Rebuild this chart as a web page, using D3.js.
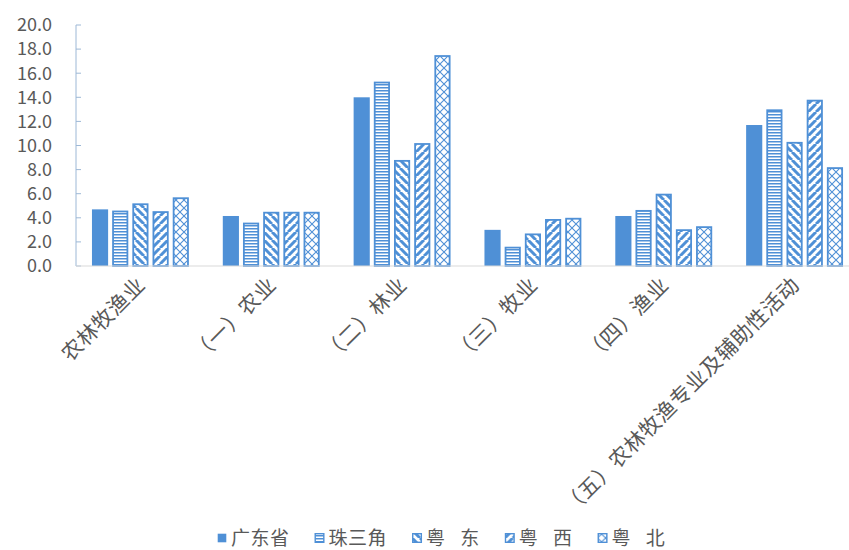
<!DOCTYPE html>
<html>
<head>
<meta charset="utf-8">
<script src="https://cdn.jsdelivr.net/npm/d3@7"></script>
<style>
  body { margin: 0; background: #fff; }
  text { font-family: "Noto Sans CJK SC", "Noto Sans", sans-serif; fill: #595959; }
</style>
</head>
<body>
<div id="chart"></div>
<script>
// categories and series
const categories = ["农林牧渔业", "（一）农业", "（二）林业", "（三）牧业", "（四）渔业", "（五）农林牧渔专业及辅助性活动"];
const seriesNames = ["广东省", "珠三角", "粤 东", "粤 西", "粤 北"];
const yTicks = [0, 2, 4, 6, 8, 10, 12, 14, 16, 18, 20];

// values per series, same order as categories
const guangdong = [4.7, 4.15, 14.0, 3.0, 4.15, 11.7];
const zhusanjiao = [4.6, 3.6, 15.3, 1.6, 4.65, 13.0];
const yuedong = [5.2, 4.5, 8.8, 2.7, 6.0, 10.3];
const yuexi = [4.55, 4.5, 10.2, 3.9, 3.05, 13.8];
const yuebei = [5.7, 4.5, 17.5, 4.0, 3.3, 8.2];

const seriesValues = [guangdong, zhusanjiao, yuedong, yuexi, yuebei];
const blue = "#4f90d6";

const width = 849, height = 550;
const svg = d3.select("#chart").append("svg")
  .attr("width", width)
  .attr("height", height);

// pattern fills like the excel ones
const defs = svg.append("defs");
function addPattern(id, size, draw) {
  const p = defs.append("pattern")
    .attr("id", id)
    .attr("patternUnits", "userSpaceOnUse")
    .attr("width", size).attr("height", size);
  p.append("rect").attr("width", size).attr("height", size).attr("fill", "#fff");
  draw(p, size);
}
addPattern("p-horiz", 3, (p) => {
  p.append("rect").attr("width", 3).attr("height", 1.5).attr("fill", blue);
});
addPattern("p-down", 8, (p, s) => {
  // "\" stripes
  p.append("path").attr("d", `M0,0 L${s},${s} M${-s},0 L0,${s} M${s},0 L${2 * s},${s}`)
    .attr("stroke", blue).attr("stroke-width", 3);
});
addPattern("p-up", 8, (p, s) => {
  // "/" stripes
  p.append("path").attr("d", `M0,${s} L${s},0 M${-s},${s} L0,0 M${s},${s} L${2 * s},0`)
    .attr("stroke", blue).attr("stroke-width", 3);
});
addPattern("p-diamond", 8, (p, s) => {
  p.append("path").attr("d", `M0,0 L${s},${s} M0,${s} L${s},0`)
    .attr("stroke", blue).attr("stroke-width", 1.1);
});
const fills = [blue, "url(#p-horiz)", "url(#p-down)", "url(#p-up)", "url(#p-diamond)"];

// scales
const x0 = d3.scaleBand()
  .domain(categories)
  .range([75, 860]);
const x1 = d3.scaleBand()
  .domain(seriesNames)
  .range([0, x0.bandwidth()])
  .paddingInner(0.2)
  .paddingOuter(0.84);
const y = d3.scaleLinear()
  .domain([0, 20])
  .range([266, 25]);

// y axis: line + inside ticks + labels
const yAxis = svg.append("g");
yAxis.append("line")
  .attr("x1", 76).attr("x2", 76)
  .attr("y1", y(20)).attr("y2", y(0))
  .attr("stroke", "#9db8d6").attr("stroke-width", 1);
yAxis.selectAll(".tick")
  .data(yTicks)
  .join("line")
  .attr("x1", 76).attr("x2", 81)
  .attr("y1", d => y(d)).attr("y2", d => y(d))
  .attr("stroke", "#9db8d6");
yAxis.selectAll("text")
  .data(yTicks)
  .join("text")
  .attr("x", 52)
  .attr("y", d => y(d))
  .attr("dy", "0.35em")
  .attr("text-anchor", "end")
  .style("font-size", "18px")
  .text(d => d.toFixed(1));

// bars
const groups = svg.append("g")
  .selectAll("g")
  .data(seriesNames)
  .join("g");

groups.each(function(name, si) {
  const solid = si === 0;
  d3.select(this).selectAll("rect")
    .data(seriesValues[si].map((v, ci) => ({ cat: categories[ci], v: v })))
    .join("rect")
    .attr("x", d => x0(d.cat) + x1(name) + (solid ? 0 : 0.9))
    .attr("y", d => y(d.v) + (solid ? 0 : 0.9))
    .attr("width", x1.bandwidth() - (solid ? 0 : 1.8))
    .attr("height", d => y(0) - y(d.v) - (solid ? 0 : 0.9))
    .attr("fill", fills[si])
    .attr("stroke", solid ? "none" : blue)
    .attr("stroke-width", 1.8);
});

// x axis line
svg.append("line")
  .attr("x1", 76).attr("x2", width)
  .attr("y1", y(0)).attr("y2", y(0))
  .attr("stroke", "#d9d9d9").attr("stroke-width", 1.2);

// category labels, rotated
svg.append("g")
  .selectAll("text")
  .data(categories)
  .join("text")
  .attr("transform", d => `translate(${x0(d) + x0.bandwidth() / 2 + 1},${y(0) + 15}) rotate(-45)`)
  .attr("text-anchor", "end")
  .attr("dy", "0.35em")
  .style("font-size", "21px")
  .style("letter-spacing", "0.6px")
  .text(d => d);

// legend
const legend = svg.append("g").attr("transform", "translate(217,538)");
let lx = 0;
seriesNames.forEach((name, i) => {
  const item = legend.append("g").attr("transform", `translate(${lx},0)`);
  item.append("rect")
    .attr("x", 0.7).attr("y", -4.3)
    .attr("width", 8.6).attr("height", 8.6)
    .attr("fill", fills[i])
    .attr("stroke", i === 0 ? "none" : blue)
    .attr("stroke-width", 1.4);
  const t = item.append("text")
    .attr("x", 14)
    .attr("dy", "0.35em")
    .style("font-size", "19px")
    .style("letter-spacing", "0.5px")
    .style("word-spacing", "10px")
    .text(name);
  lx += 14 + t.node().getComputedTextLength() + 25;
});
</script>
</body>
</html>
